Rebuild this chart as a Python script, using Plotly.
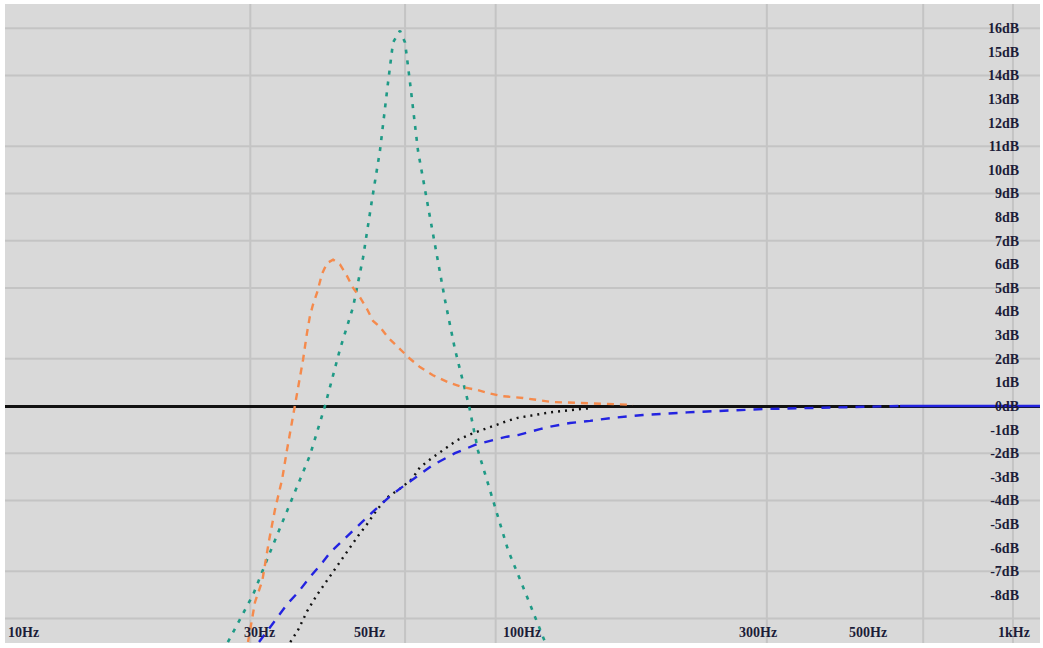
import math
import plotly.graph_objects as go

# ---- data (frequency in Hz, level in dB) ----
teal_f = [28.2, 31.7, 34.3, 38.0, 41.3, 44.3, 47.5, 50.5, 52.9, 55.1, 57.2, 59.4, 60.8, 62.8,
          64.3, 65.8, 68.3, 71.2, 74.3, 77.4, 81.1, 86.6, 90.3, 96.8, 103.8, 114.0, 123.3]
teal_db = [-10.0, -8.0, -6.2, -3.9, -2.1, 0.0, 2.4, 4.2, 6.3, 8.7, 10.8, 13.7, 15.4, 15.9,
           15.4, 13.7, 10.8, 8.7, 6.6, 4.5, 2.4, 0.0, -1.9, -4.0, -6.1, -8.2, -10.0]

orange_f = [30.97, 31.55, 32.0, 33.1, 34.15, 35.1, 36.3, 37.1, 38.0, 38.5, 39.45, 40.0, 40.75,
            41.3, 41.9, 42.7, 43.7, 44.7, 46.0, 47.5, 49.1, 50.5, 52.15, 53.9, 55.4, 57.2, 59.4,
            65.8, 68.9, 73.2, 79.3, 84.2, 89.9, 94.6, 100.9, 111.3, 127.4, 168.4, 185.7]
orange_db = [-10.0, -9.1, -8.3, -7.4, -5.7, -4.4, -3.1, -1.9, -0.7, 0.0, 1.3, 1.95, 3.1,
             3.8, 4.3, 4.8, 5.6, 6.05, 6.2, 6.0, 5.5, 5.0, 4.6, 4.1, 3.6, 3.35, 2.9,
             2.0, 1.65, 1.3, 0.97, 0.8, 0.68, 0.55, 0.42, 0.34, 0.17, 0.08, 0.05]

black_f = [37.7, 39.07, 40.75, 42.7, 44.7, 46.4, 48.6, 51.7, 53.9, 56.4, 59.4, 62.8, 66.4, 68.9,
           72.9, 77.4, 81.9, 88.2, 94.6, 99.1, 103.3, 108.7, 116.6, 126.2, 145.1, 152.0]
black_db = [-10.0, -9.5, -8.7, -8.0, -7.4, -6.9, -6.3, -5.5, -5.0, -4.4, -3.85, -3.5, -3.1, -2.6,
            -2.2, -1.8, -1.45, -1.15, -0.92, -0.75, -0.64, -0.5, -0.38, -0.27, -0.13, -0.1]

blue_f = [32.6, 34.8, 37.3, 39.07, 41.3, 43.9, 45.4, 55.9, 59.4, 62.8, 68.9, 73.2, 81.1, 89.0,
          98.6, 103.3, 108.7, 114.0, 120.4, 128.0, 138.5, 152.0, 169.2, 194.5, 238.7, 340.0,
          385.0, 643.0, 1233.0]
blue_db = [-10.0, -9.2, -8.35, -7.9, -7.25, -6.6, -6.2, -4.4, -3.9, -3.5, -2.9, -2.5, -2.0, -1.65,
           -1.4, -1.3, -1.23, -1.1, -0.98, -0.85, -0.72, -0.63, -0.5, -0.38, -0.27, -0.13,
           -0.1, 0.0, 0.0]
blue_solid_from = 27  # index where the blue trace becomes a solid line

x_tick_vals = [10, 30, 50, 100, 300, 500, 1000]
x_tick_text = ["10Hz", "30Hz", "50Hz", "100Hz", "300Hz", "500Hz", "1kHz"]
y_tick_vals = list(range(-8, 17))
y_tick_text = [f"{v}dB" for v in y_tick_vals]

grid_f = [31.3, 64.3, 98.0, 346.0, 716.0, 1087.0]
grid_db = [16, 14, 11, 9, 7, 5, 2, -2, -4, -7, -9]

label_font = dict(family="Liberation Serif", size=14, color="#1c1c38", weight="bold")

# ---- figure ----
fig = go.Figure()

fig.add_trace(go.Scatter(x=teal_f, y=teal_db, mode="lines",
                         line=dict(color="#1f9a86", width=2.6, dash="4px,7px")))
fig.add_trace(go.Scatter(x=orange_f, y=orange_db, mode="lines",
                         line=dict(color="#f58a4c", width=2.4, dash="7px,6px")))
fig.add_trace(go.Scatter(x=black_f, y=black_db, mode="lines",
                         line=dict(color="#111111", width=2.4, dash="2px,5px")))
fig.add_trace(go.Scatter(x=blue_f[:blue_solid_from + 1], y=blue_db[:blue_solid_from + 1],
                         mode="lines", line=dict(color="#2323e0", width=2.4, dash="9px,8px")))
fig.add_trace(go.Scatter(x=blue_f[blue_solid_from:], y=blue_db[blue_solid_from:],
                         mode="lines", line=dict(color="#2323e0", width=2.6)))

shapes = []
for f in grid_f:
    shapes.append(dict(type="line", xref="x", yref="paper", x0=f, x1=f, y0=0, y1=1,
                       line=dict(color="#c4c4c4", width=2), layer="below"))
for d in grid_db:
    shapes.append(dict(type="line", xref="paper", yref="y", x0=0, x1=1, y0=d, y1=d,
                       line=dict(color="#c4c4c4", width=2), layer="below"))

# frequency labels sit inside the plot, left-aligned at their frequency
annotations = [dict(x=math.log10(v), y=0, xref="x", yref="paper", text=t,
                    showarrow=False, xanchor="left", yanchor="bottom",
                    xshift=1, yshift=1, font=label_font)
               for v, t in zip(x_tick_vals, x_tick_text)]

fig.update_layout(
    width=1043, height=648,
    margin=dict(l=5, r=3, t=4, b=5),
    paper_bgcolor="white",
    plot_bgcolor="#d9d9d9",
    showlegend=False,
    shapes=shapes,
    annotations=annotations,
    font=label_font,
)
fig.update_xaxes(
    type="log", range=[1, 3.0909],
    showticklabels=False, ticks="",
    showgrid=False, zeroline=False, showline=False,
)
fig.update_yaxes(
    range=[-10.04, 17.03],
    tickvals=y_tick_vals, ticktext=y_tick_text,
    side="right", ticklabelposition="inside", ticks="",
    ticklabelstandoff=18,
    showgrid=False, showline=False,
    zeroline=True, zerolinecolor="#111111", zerolinewidth=2.5,
    tickfont=label_font,
)

fig.write_html("out.html",
               config={"displayModeBar": False},
               post_script="document.body.style.margin='0';document.body.style.padding='0';")
